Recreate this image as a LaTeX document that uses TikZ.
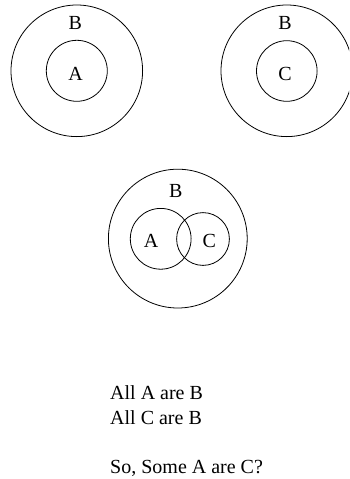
\documentclass[tikz,border=0pt]{standalone}
\usepackage{fontspec}
\setmainfont{Liberation Serif}
\begin{document}
\begin{tikzpicture}[x=1pt,y=-1pt,
  ring/.style={circle,draw,line width=0.8pt,inner sep=0pt},
  lbl/.style={font=\fontsize{20}{24}\selectfont,inner sep=0pt},
  txt/.style={font=\fontsize{20}{24}\selectfont,inner sep=0pt,anchor=base west}]
\path[use as bounding box] (0,0) rectangle (349,479);
\clip (0,0) rectangle (349,479);
% top left
\node[ring,minimum size=131.6pt] (bL) at (76.8,70.8) {};
\node[ring,minimum size=61pt] (aL) at (76.8,70.8) {};
\node[lbl] (bLt) at (75.3,23.3) {B};
\node[lbl] (aLt) at (75.5,74) {A};
% top right
\node[ring,minimum size=131.6pt] (bR) at (286.8,70.8) {};
\node[ring,minimum size=60.6pt] (cR) at (286.8,71) {};
\node[lbl] (bRt) at (285,23.3) {B};
\node[lbl] (cRt) at (285,74) {C};
% bottom
\node[ring,minimum size=138.8pt] (bM) at (177.8,238.6) {};
\node[ring,minimum size=60.8pt] (aM) at (160.7,238.8) {};
\node[ring,minimum size=52.8pt] (cM) at (203,239) {};
\node[lbl] (bMt) at (175.7,190.9) {B};
\node[lbl] (aMt) at (151,240.7) {A};
\node[lbl] (cMt) at (209.3,240.7) {C};
% text
\node[txt] (t1) at (110,399) {All A are B};
\node[txt] (t2) at (110,424) {All C are B};
\node[txt] (t3) at (110,473) {So, Some A are C?};
\end{tikzpicture}
\end{document}
